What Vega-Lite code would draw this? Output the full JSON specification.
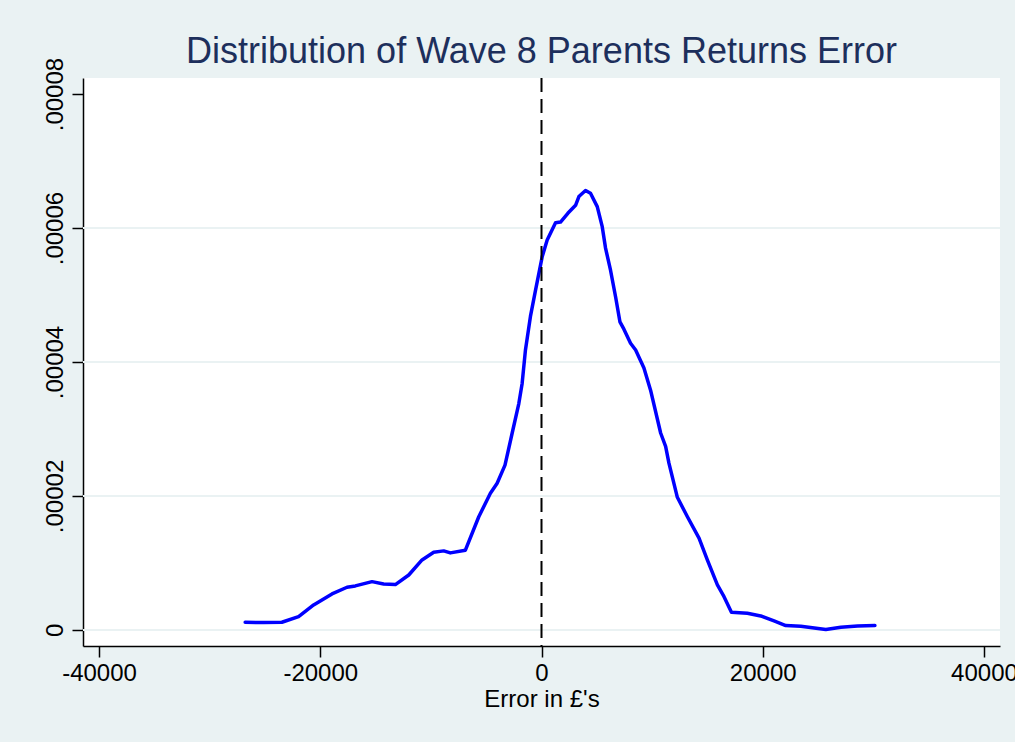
{
  "$schema": "https://vega.github.io/schema/vega-lite/v6.json",
  "width": 917,
  "height": 568,
  "autosize": {"type": "none"},
  "padding": {"left": 83, "top": 78, "right": 15, "bottom": 96},
  "background": "#eaf2f3",
  "view": {"fill": "white", "stroke": null},
  "title": {
    "text": "Distribution of Wave 8 Parents Returns Error",
    "frame": "group",
    "anchor": "middle",
    "fontSize": 36,
    "font": "Liberation Sans",
    "fontWeight": "normal",
    "color": "#1d2f5c",
    "baseline": "alphabetic",
    "offset": -42
  },
  "config": {
    "font": "Liberation Sans",
    "axisX": {
      "grid": false,
      "domainColor": "black", "domainWidth": 1.5,
      "tickColor": "black", "tickWidth": 1.5, "tickSize": 11,
      "labelFontSize": 24, "labelColor": "black", "labelPadding": 4,
      "labelFlush": false, "labelOverlap": false,
      "titleFontSize": 24, "titleFontWeight": "normal", "titleColor": "black", "titlePadding": 2
    },
    "axisY": {
      "grid": false,
      "domainColor": "black", "domainWidth": 1.5,
      "tickColor": "black", "tickWidth": 1.5, "tickSize": 11,
      "labelFontSize": 24, "labelColor": "black", "labelPadding": 10,
      "labelAngle": -90, "labelAlign": "center", "labelBaseline": "alphabetic",
      "labelFlush": false, "labelOverlap": false
    }
  },
  "datasets": {
    "grid": [{"g": 0}, {"g": 0.00002}, {"g": 0.00004}, {"g": 0.00006}],
    "zero": [{"v": 0}],
    "density": [
      {"error": -26788, "density": 0.00000115},
      {"error": -25130, "density": 0.00000109},
      {"error": -23470, "density": 0.00000115},
      {"error": -21960, "density": 0.00000199},
      {"error": -20600, "density": 0.00000373},
      {"error": -18940, "density": 0.00000537},
      {"error": -17580, "density": 0.00000637},
      {"error": -16830, "density": 0.00000657},
      {"error": -15320, "density": 0.00000721},
      {"error": -14270, "density": 0.00000687},
      {"error": -13210, "density": 0.00000677},
      {"error": -12000, "density": 0.0000082},
      {"error": -10800, "density": 0.00001045},
      {"error": -9745, "density": 0.0000116},
      {"error": -8840, "density": 0.0000118},
      {"error": -8240, "density": 0.0000115},
      {"error": -6880, "density": 0.0000119},
      {"error": -5670, "density": 0.0000169},
      {"error": -4620, "density": 0.0000204},
      {"error": -4010, "density": 0.0000219},
      {"error": -3300, "density": 0.0000246},
      {"error": -2650, "density": 0.0000294},
      {"error": -2050, "density": 0.0000338},
      {"error": -1750, "density": 0.0000368},
      {"error": -1450, "density": 0.0000418},
      {"error": -1000, "density": 0.0000468},
      {"error": -543, "density": 0.0000507},
      {"error": 60, "density": 0.0000557},
      {"error": 513, "density": 0.0000582},
      {"error": 1270, "density": 0.0000608},
      {"error": 1720, "density": 0.0000609},
      {"error": 2380, "density": 0.0000622},
      {"error": 3080, "density": 0.0000634},
      {"error": 3380, "density": 0.0000647},
      {"error": 3980, "density": 0.0000656},
      {"error": 4430, "density": 0.0000652},
      {"error": 5040, "density": 0.0000632},
      {"error": 5490, "density": 0.0000602},
      {"error": 5790, "density": 0.000057},
      {"error": 6240, "density": 0.0000537},
      {"error": 6700, "density": 0.0000497},
      {"error": 7090, "density": 0.000046},
      {"error": 7450, "density": 0.0000449},
      {"error": 8050, "density": 0.0000428},
      {"error": 8510, "density": 0.0000418},
      {"error": 9260, "density": 0.0000391},
      {"error": 9860, "density": 0.0000358},
      {"error": 10770, "density": 0.0000294},
      {"error": 11220, "density": 0.0000274},
      {"error": 11520, "density": 0.0000249},
      {"error": 12280, "density": 0.0000198},
      {"error": 13190, "density": 0.0000169},
      {"error": 14240, "density": 0.0000137},
      {"error": 14990, "density": 0.00001045},
      {"error": 15900, "density": 0.00000672},
      {"error": 16500, "density": 0.00000497},
      {"error": 17170, "density": 0.00000264},
      {"error": 18610, "density": 0.00000249},
      {"error": 19820, "density": 0.00000209},
      {"error": 21020, "density": 0.00000134},
      {"error": 22080, "density": 0.00000065},
      {"error": 23440, "density": 0.00000055},
      {"error": 25700, "density": 0.00000005},
      {"error": 27060, "density": 0.0000004},
      {"error": 28570, "density": 0.0000006},
      {"error": 30140, "density": 0.00000065}
    ]
  },
  "layer": [
    {
      "data": {"name": "grid"},
      "mark": {"type": "rule", "color": "#eaf2f3", "strokeWidth": 2},
      "encoding": {
        "y": {
          "field": "g", "type": "quantitative",
          "scale": {"domain": [-0.0000024, 0.0000824], "nice": false, "zero": false},
          "axis": {
            "title": null,
            "values": [0, 0.00002, 0.00004, 0.00006, 0.00008],
            "labelExpr": "datum.value == 0 ? '0' : slice(format(datum.value, '.5f'), 1)"
          }
        }
      }
    },
    {
      "data": {"name": "density"},
      "mark": {"type": "line", "color": "#0000ff", "strokeWidth": 3.5, "strokeJoin": "round", "strokeCap": "round"},
      "encoding": {
        "x": {
          "field": "error", "type": "quantitative",
          "scale": {"domain": [-41448, 41448], "nice": false, "zero": false},
          "axis": {
            "title": "Error in £'s",
            "values": [-40000, -20000, 0, 20000, 40000],
            "labelExpr": "'' + datum.value"
          }
        },
        "y": {
          "field": "density", "type": "quantitative",
          "scale": {"domain": [-0.0000024, 0.0000824], "nice": false, "zero": false},
          "axis": {
            "title": null,
            "values": [0, 0.00002, 0.00004, 0.00006, 0.00008],
            "labelExpr": "datum.value == 0 ? '0' : slice(format(datum.value, '.5f'), 1)"
          }
        }
      }
    },
    {
      "data": {"name": "zero"},
      "mark": {"type": "rule", "color": "black", "strokeWidth": 2, "strokeDash": [14, 7]},
      "encoding": {
        "x": {
          "field": "v", "type": "quantitative",
          "scale": {"domain": [-41448, 41448], "nice": false, "zero": false},
          "axis": {
            "title": "Error in £'s",
            "values": [-40000, -20000, 0, 20000, 40000],
            "labelExpr": "'' + datum.value"
          }
        }
      }
    }
  ]
}
